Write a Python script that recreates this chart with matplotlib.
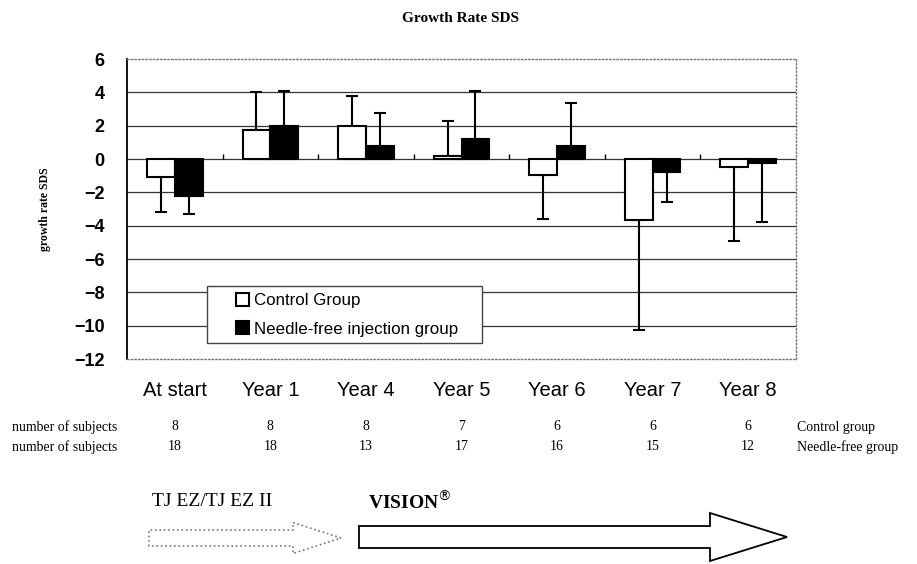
import matplotlib.pyplot as plt
from matplotlib.patches import FancyArrow, Rectangle
import numpy as np

# data
categories = ["At start", "Year 1", "Year 4", "Year 5", "Year 6", "Year 7", "Year 8"]
control_mean = [-1.1, 1.75, 2.0, 0.2, -0.95, -3.65, -0.5]
control_sd = [2.05, 2.25, 1.8, 2.1, 2.65, 6.6, 4.4]
needle_mean = [-2.2, 2.0, 0.8, 1.2, 0.8, -0.75, -0.25]
needle_sd = [1.1, 2.1, 1.95, 2.9, 2.55, 1.8, 3.55]
n_control = [8, 8, 8, 7, 6, 6, 6]
n_needle = [18, 18, 13, 17, 16, 15, 12]
yticks = np.arange(-12, 7, 2)

sans = ["Liberation Sans", "DejaVu Sans"]
serif = ["Liberation Serif", "DejaVu Serif"]


def one_sided(mean, sd):
    # error bar only points away from zero
    mean = np.asarray(mean)
    sd = np.asarray(sd)
    lower = np.where(mean < 0, sd, 0)
    upper = np.where(mean >= 0, sd, 0)
    return [lower, upper]


W, H = 917, 564
fig = plt.figure(figsize=(W / 100, H / 100), dpi=100)
ax = fig.add_axes([127 / W, 1 - 359 / H, 669 / W, 300 / H])

x = np.arange(len(categories))
w = 0.29

ax.bar(x - w / 2, control_mean, w, color="white", edgecolor="black", lw=1.5,
       label="Control Group", zorder=3)
ax.bar(x + w / 2, needle_mean, w, color="black", edgecolor="black", lw=1.5,
       label="Needle-free injection group", zorder=3)
ax.errorbar(x - w / 2, control_mean, yerr=one_sided(control_mean, control_sd),
            fmt="none", ecolor="black", elinewidth=1.5, capsize=4.5, capthick=1.5, zorder=2)
ax.errorbar(x + w / 2, needle_mean, yerr=one_sided(needle_mean, needle_sd),
            fmt="none", ecolor="black", elinewidth=1.5, capsize=4.5, capthick=1.5, zorder=2)

# small separators on the zero line
ax.vlines(x[:-1] + 0.5, 0, 0.3, color="black", lw=1, zorder=3)

ax.set_xlim(-0.5, len(categories) - 0.5)
ax.set_ylim(-12, 6)
ax.set_yticks(yticks)
ax.set_yticklabels([str(v).replace("-", "\u2212") for v in yticks],
                   fontfamily=sans, fontweight="bold", fontsize=13)
ax.set_xticks(x)
ax.set_xticklabels(categories, fontfamily=sans, fontsize=14.5)
ax.tick_params(axis="x", length=0, pad=16)
ax.tick_params(axis="y", length=0, pad=16)

for v in yticks[1:-1]:
    ax.axhline(v, color="#333333", lw=0.9, zorder=1)

ax.spines["left"].set_linewidth(1.3)
for s in ("top", "right", "bottom"):
    ax.spines[s].set_linestyle(":")
    ax.spines[s].set_color("#777777")
    ax.spines[s].set_linewidth(1)

# legend: separate frame so the entries can sit further in
ax.add_patch(Rectangle((0.12, 0.053), 0.41, 0.19, transform=ax.transAxes,
                       facecolor="white", edgecolor="#444444", lw=1, zorder=4))
leg = ax.legend(loc="lower left", bbox_to_anchor=(0.155, 0.058), prop={"family": sans, "size": 12.2},
                frameon=False, handlelength=0.8, handleheight=0.8, handletextpad=0.3,
                borderpad=0.3, labelspacing=0.75, borderaxespad=0)
leg.set_zorder(5)

fig.text(460 / W, 1 - 18 / H, "Growth Rate SDS", ha="center", va="center",
         fontfamily=serif, fontweight="bold", fontsize=11)
fig.text(45 / W, 1 - 209 / H, "growth rate SDS", ha="center", va="center", rotation=90,
         fontfamily=serif, fontweight="bold", fontsize=8.5)

# subject counts
xt = ax.get_xaxis_transform()
for row_y, counts, name in [(427, n_control, "Control group"), (447, n_needle, "Needle-free group")]:
    fy = 1 - row_y / H
    ay = (359 - row_y) / 300
    fig.text(12 / W, fy, "number of subjects", ha="left", va="center", fontfamily=serif, fontsize=10)
    for xi, c in zip(x, counts):
        ax.text(xi, ay, str(c), transform=xt, ha="center", va="center",
                fontfamily=serif, fontsize=10, clip_on=False)
    fig.text(797 / W, fy, name, ha="left", va="center", fontfamily=serif, fontsize=10)

# device arrows
ov = fig.add_axes([0, 0, 1, 1], zorder=-1)
ov.set_xlim(0, W)
ov.set_ylim(H, 0)
ov.axis("off")
ov.add_patch(FancyArrow(149, 538, 192, 0, width=16, head_width=31, head_length=48,
                        length_includes_head=True, facecolor="white", edgecolor="#777777",
                        linestyle=":", lw=1.2))
ov.add_patch(FancyArrow(359, 537, 428, 0, width=22, head_width=48, head_length=77,
                        length_includes_head=True, facecolor="white", edgecolor="black", lw=1.3))
ov.text(152, 502, "TJ EZ/TJ EZ II", ha="left", va="center", fontfamily=serif, fontsize=14)
ov.text(368, 502, "VISION$^{\\circledR}$", ha="left", va="center", fontfamily=serif,
        fontweight="bold", fontsize=14)

fig.savefig("out.png", dpi=100)
